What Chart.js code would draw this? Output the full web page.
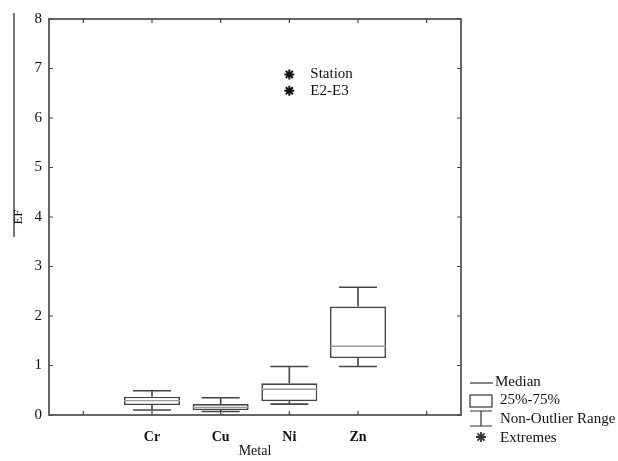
<!DOCTYPE html>
<html>
<head>
<meta charset="utf-8">
<script src="https://cdn.jsdelivr.net/npm/chart.js@4/dist/chart.umd.min.js"></script>
<style>html,body{margin:0;padding:0;background:#fff}</style>
</head>
<body>
<canvas id="myChart" width="618" height="461"></canvas>
<script>
// axis categories (blank slots at each end, like the original)
const metals = ['', 'Cr', 'Cu', 'Ni', 'Zn', ''];
const boxMetals = ['Cr', 'Cu', 'Ni', 'Zn'];
// box plot statistics per metal
const whiskerLow = [0.10, 0.07, 0.22, 0.98];
const q1 = [0.20, 0.10, 0.28, 1.15];
const medians = [0.29, 0.155, 0.52, 1.39];
const q3 = [0.37, 0.22, 0.64, 2.19];
const whiskerHigh = [0.49, 0.35, 0.98, 2.58];
// extremes markers shown in the plot
const markerMetal = 'Ni';
const markerValues = [6.88, 6.55];
const markerLabels = ['Station', 'E2-E3'];
const yMin = 0, yMax = 8;

const serif = '"Liberation Serif", "DejaVu Serif", serif';
const lineColor = '#444';

const boxPlugin = {
  id: 'boxParts',
  afterDatasetsDraw(chart) {
    const ctx = chart.ctx;
    const x = chart.scales.x, y = chart.scales.y;
    const meta = chart.getDatasetMeta(0);
    const catW = x.width / metals.length;
    const cap = catW * 0.277;
    ctx.save();
    ctx.lineWidth = 1.6;
    boxMetals.forEach((m, i) => {
      const el = meta.data[i];
      const cx = el.x;
      const half = el.width / 2;
      // whiskers
      ctx.strokeStyle = lineColor;
      ctx.beginPath();
      ctx.moveTo(cx, y.getPixelForValue(q3[i]));
      ctx.lineTo(cx, y.getPixelForValue(whiskerHigh[i]));
      ctx.moveTo(cx - cap, y.getPixelForValue(whiskerHigh[i]));
      ctx.lineTo(cx + cap, y.getPixelForValue(whiskerHigh[i]));
      ctx.moveTo(cx, y.getPixelForValue(q1[i]));
      ctx.lineTo(cx, y.getPixelForValue(whiskerLow[i]));
      ctx.moveTo(cx - cap, y.getPixelForValue(whiskerLow[i]));
      ctx.lineTo(cx + cap, y.getPixelForValue(whiskerLow[i]));
      ctx.stroke();
      // median
      ctx.strokeStyle = '#999';
      ctx.lineWidth = 1.4;
      ctx.beginPath();
      ctx.moveTo(cx - half, y.getPixelForValue(medians[i]));
      ctx.lineTo(cx + half, y.getPixelForValue(medians[i]));
      ctx.stroke();
      ctx.lineWidth = 1.6;
    });
    // labels next to the extremes markers
    const sm = chart.getDatasetMeta(1);
    ctx.fillStyle = '#111';
    ctx.font = '15px ' + serif;
    ctx.textBaseline = 'middle';
    ctx.textAlign = 'left';
    sm.data.forEach((p, i) => ctx.fillText(markerLabels[i], p.x + 21, p.y));
    ctx.restore();
  },
  afterDraw(chart) {
    const ctx = chart.ctx;
    const a = chart.chartArea;
    const x = chart.scales.x, y = chart.scales.y;
    ctx.save();
    // frame
    ctx.strokeStyle = '#666';
    ctx.lineWidth = 2;
    ctx.strokeRect(a.left, a.top, a.right - a.left, a.bottom - a.top);
    // inward ticks
    ctx.lineWidth = 1.2;
    ctx.strokeStyle = '#444';
    ctx.beginPath();
    metals.forEach((m, i) => {
      const px = x.getPixelForValue(i);
      ctx.moveTo(px, a.bottom); ctx.lineTo(px, a.bottom - 4);
      ctx.moveTo(px, a.top); ctx.lineTo(px, a.top + 4);
    });
    for (let v = yMin; v <= yMax; v++) {
      const py = y.getPixelForValue(v);
      ctx.moveTo(a.left, py); ctx.lineTo(a.left + 4, py);
      ctx.moveTo(a.right, py); ctx.lineTo(a.right - 4, py);
    }
    ctx.stroke();
    // odd vertical rule and y title
    ctx.strokeStyle = '#777';
    ctx.lineWidth = 2;
    ctx.beginPath();
    ctx.moveTo(14, 13); ctx.lineTo(14, 237);
    ctx.stroke();
    ctx.fillStyle = '#111';
    ctx.font = '13px ' + serif;
    ctx.translate(19, 217);
    ctx.rotate(-Math.PI / 2);
    ctx.textAlign = 'center';
    ctx.textBaseline = 'middle';
    ctx.fillText('EF', 0, 0);
    ctx.setTransform(1, 0, 0, 1, 0, 0);
    // legend
    const lx = 470, tx = 500;
    ctx.strokeStyle = '#333';
    ctx.lineWidth = 1.2;
    ctx.beginPath();
    ctx.moveTo(lx, 383); ctx.lineTo(lx + 23, 383);
    ctx.stroke();
    ctx.strokeRect(lx, 395, 22, 12);
    ctx.beginPath();
    ctx.moveTo(lx, 411); ctx.lineTo(lx + 22, 411);
    ctx.moveTo(lx + 11, 411); ctx.lineTo(lx + 11, 426);
    ctx.moveTo(lx, 426); ctx.lineTo(lx + 22, 426);
    ctx.stroke();
    ctx.lineWidth = 1.8;
    const sx = lx + 11, sy = 437, r = 5;
    ctx.beginPath();
    for (let k = 0; k < 4; k++) {
      const ang = k * Math.PI / 4;
      ctx.moveTo(sx - r * Math.cos(ang), sy - r * Math.sin(ang));
      ctx.lineTo(sx + r * Math.cos(ang), sy + r * Math.sin(ang));
    }
    ctx.stroke();
    ctx.font = '15px ' + serif;
    ctx.textAlign = 'left';
    ctx.textBaseline = 'middle';
    ctx.fillText('Median', 495, 382);
    ctx.fillText('25%-75%', tx, 400);
    ctx.fillText('Non-Outlier Range', tx, 419);
    ctx.fillText('Extremes', tx, 438);
    ctx.restore();
  }
};

const ctx = document.getElementById('myChart').getContext('2d');
new Chart(ctx, {
  type: 'bar',
  data: {
    labels: metals,
    datasets: [
      {
        label: '25%-75%',
        data: boxMetals.map((m, i) => ({ x: m, y: [q1[i], q3[i]] })),
        backgroundColor: '#fff',
        borderColor: lineColor,
        borderWidth: 1.6,
        borderSkipped: false,
        barPercentage: 0.815,
        categoryPercentage: 1
      },
      {
        type: 'scatter',
        label: 'Extremes',
        data: markerValues.map(v => ({ x: markerMetal, y: v })),
        pointStyle: 'star',
        radius: 5,
        borderColor: '#111',
        borderWidth: 2
      }
    ]
  },
  plugins: [boxPlugin],
  options: {
    responsive: false,
    animation: false,
    layout: { padding: { left: 0, right: 157, top: 19, bottom: 0 } },
    plugins: { legend: { display: false }, tooltip: { enabled: false } },
    scales: {
      x: {
        type: 'category',
        offset: true,
        grid: { display: false, drawTicks: false },
        border: { display: false },
        ticks: { autoSkip: false, maxRotation: 0, padding: 14, color: '#111', font: { family: serif, size: 14, weight: 'bold' } },
        title: { display: true, text: 'Metal', color: '#111', padding: { top: 0, bottom: 1 }, font: { family: serif, size: 14 } },
        afterFit: s => { s.height = 46; }
      },
      y: {
        min: yMin,
        max: yMax,
        grid: { display: false, drawTicks: false },
        border: { display: false },
        ticks: { stepSize: 1, padding: 7, color: '#111', font: { family: serif, size: 15 } },
        afterFit: s => { s.width = 49; }
      }
    }
  }
});
</script>
</body>
</html>
